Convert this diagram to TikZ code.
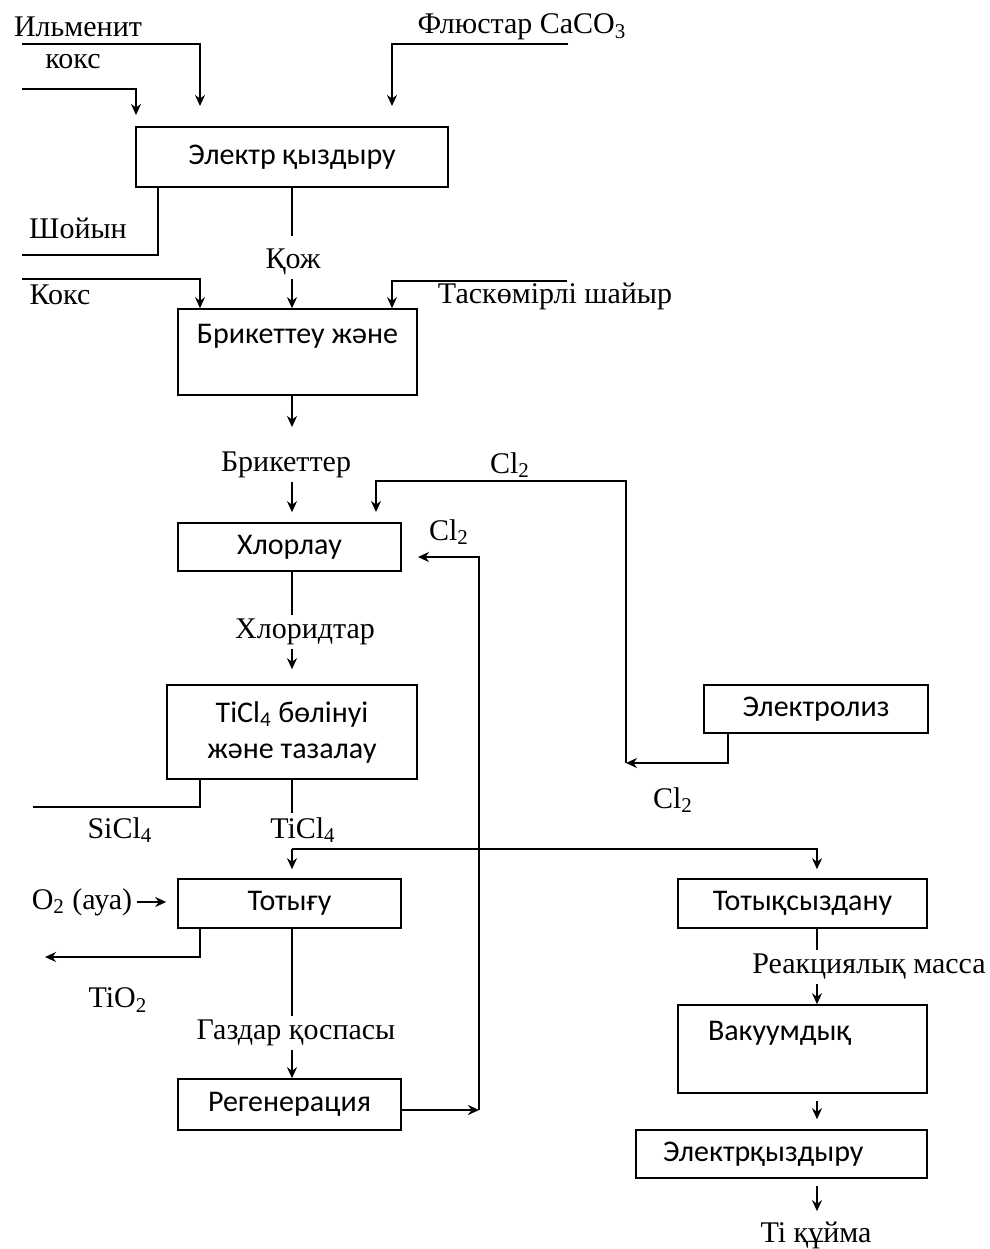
\documentclass[tikz,border=0pt]{standalone}
\usepackage{fontspec}
\setmainfont{Liberation Serif}
\newfontfamily\boxfont{Carlito}
\usetikzlibrary{arrows.meta}

\tikzset{
  blok/.style={draw, line width=0.8pt, inner sep=0pt, align=center, font=\boxfont\fontsize{15}{18}\selectfont},
  lbl/.style={inner sep=2pt, font=\fontsize{15}{18}\selectfont},
  line/.style={line width=0.8pt},
  arr/.style={line width=0.8pt, -{Stealth[length=5.5pt,width=5pt]}}
}

\begin{document}
\begin{tikzpicture}[x=0.5pt, y=-0.5pt]
	\useasboundingbox (0,0) rectangle (990,1249);

	% boxes
	\node[blok, minimum width=156pt, minimum height=30pt] (elq) at (292,157) {Электр қыздыру};
	\node[blok, minimum width=119.5pt, minimum height=43pt] (brik) at (297.5,352) {Брикеттеу және\\ \mbox{}};
	\node[blok, minimum width=111.5pt, minimum height=24pt] (xlor) at (289.5,547) {Хлорлау};
	\node[blok, minimum width=125pt, minimum height=47pt] (tic) at (292,732) {TiCl\textsubscript{4} бөлінуі\\ және тазалау};
	\node[blok, minimum width=112pt, minimum height=24pt] (elz) at (816,709) {Электролиз};
	\node[blok, minimum width=111.5pt, minimum height=24.5pt] (tot) at (289.5,903.5) {Тотығу};
	\node[blok, minimum width=111.5pt, minimum height=25.5pt] (reg) at (289.5,1104.5) {Регенерация};
	\node[blok, minimum width=124.5pt, minimum height=24.5pt] (tsyz) at (802.5,903.5) {Тотықсыздану};
	\node[blok, minimum width=124.5pt, minimum height=44pt, text width=94.5pt, align=left] (vak) at (802.5,1049) {Вакуумдық\\ \mbox{}};
	\node[blok, minimum width=145.5pt, minimum height=24pt, text width=118.5pt, align=left] (eqz) at (781.5,1154) {Электрқыздыру};

	% labels
	\node[lbl] (ilm) at (78,27) {Ильменит};
	\node[lbl] (koks) at (73,62) {кокс};
	\node[lbl] (flus) at (522,27) {Флюстар CaCO\textsubscript{3}};
	\node[lbl] (shoy) at (78,228) {Шойын};
	\node[lbl] (qozh) at (293,262) {Қож};
	\node[lbl] (koks2) at (60,295) {Кокс};
	\node[lbl] (tas) at (555,296) {Таскөмірлі шайыр};
	\node[lbl] (brl) at (286,465) {Брикеттер};
	\node[lbl] (cla) at (510,465) {Cl\textsubscript{2}};
	\node[lbl] (clb) at (449,532) {Cl\textsubscript{2}};
	\node[lbl] (hld) at (305,632) {Хлоридтар};
	\node[lbl] (sicl) at (120,830) {SiCl\textsubscript{4}};
	\node[lbl] (ticl) at (303,830) {TiCl\textsubscript{4}};
	\node[lbl] (clc) at (673,800) {Cl\textsubscript{2}};
	\node[lbl] (o2) at (82,902) {O\textsubscript{2} (ауа)};
	\node[lbl] (tio) at (118,1000) {TiO\textsubscript{2}};
	\node[lbl] (gaz) at (296,1033) {Газдар қоспасы};
	\node[lbl] (rm) at (869,967) {Реакциялық масса};
	\node[lbl] (ti) at (816,1235) {Ti құйма};

	% free ends
	\coordinate (ilmS) at (22,44);
	\coordinate (ilmT) at (200,106);
	\coordinate (koksS) at (22,89);
	\coordinate (koksT) at (136,115);
	\coordinate (flS) at (568,44);
	\coordinate (flT) at (392,106);
	\coordinate (shS) at (22,255);
	\coordinate (qozhE) at (292,236);
	\coordinate (koks2S) at (22,279);
	\coordinate (tasS) at (567,281);
	\coordinate (brikT) at (292,427);
	\coordinate (clR) at (626,763);
	\coordinate (clK) at (626,481);
	\coordinate (clL) at (376,512);
	\coordinate (regR) at (479,1110);
	\coordinate (clM) at (418,557);
	\coordinate (siS) at (33,807);
	\coordinate (spl) at (292,849);
	\coordinate (rcol) at (817,849);
	\coordinate (tioT) at (45,957);

	% electric smelting
	\draw[arr] (ilmS) -| (ilmT);
	\draw[arr] (koksS) -| (koksT);
	\draw[arr] (flS) -| (flT);
	\draw[line] ([xshift=-67pt]elq.south) |- (shS);
	\draw[line] (elq.south) -- (qozhE);

	% briquetting
	\draw[arr] (qozh.south -| qozhE) -- (brik.north -| qozhE);
	\draw[arr] (koks2S) -| (brik.north -| ilmT);
	\draw[arr] (tasS) -| (brik.north -| flT);
	\draw[arr] (brik.south -| elq.south) -- (brikT);

	% chlorination
	\draw[arr, shorten >=5pt] (brl.south -| elq.south) -- (xlor.north -| elq.south);
	\draw[arr] ([xshift=-44pt]elz.south) |- (clR);
	\draw[arr] (clR) -- (clK) -| (clL);
	\draw[arr] (reg.east |- regR) -- (regR);
	\draw[arr] (regR) |- (clM);
	\draw[line] (xlor.south -| elq.south) -- (hld.north -| elq.south);
	\draw[arr, shorten >=7.5pt] (hld.south -| elq.south) -- (tic.north);

	% separation
	\draw[line] ([xshift=-46pt]tic.south) |- (siS);
	\draw[line] (tic.south) -- (ticl.north -| tic.south);
	\draw[arr, shorten >=4.5pt] (spl) -- (tot.north -| spl);
	\draw[arr, shorten >=4.5pt] (spl) -| (tsyz.north -| rcol);

	% oxidation
	\draw[arr, shorten >=5.5pt] (o2.east) -- (tot.west |- o2.east);
	\draw[arr] ([xshift=-44.75pt]tot.south) |- (tioT);
	\draw[line] (tot.south -| elq.south) -- (gaz.north -| elq.south);
	\draw[arr] (gaz.south -| elq.south) -- (reg.north -| elq.south);

	% reduction
	\draw[line] (tsyz.south -| rcol) -- (rm.north -| rcol);
	\draw[arr] (rm.south -| rcol) -- (vak.north -| rcol);
	\draw[arr, shorten <=3.5pt, shorten >=5pt] (vak.south -| rcol) -- (eqz.north -| rcol);
	\draw[arr, shorten <=3.5pt, shorten >=3pt] (eqz.south -| rcol) -- (ti.north -| rcol);

\end{tikzpicture}
\end{document}
